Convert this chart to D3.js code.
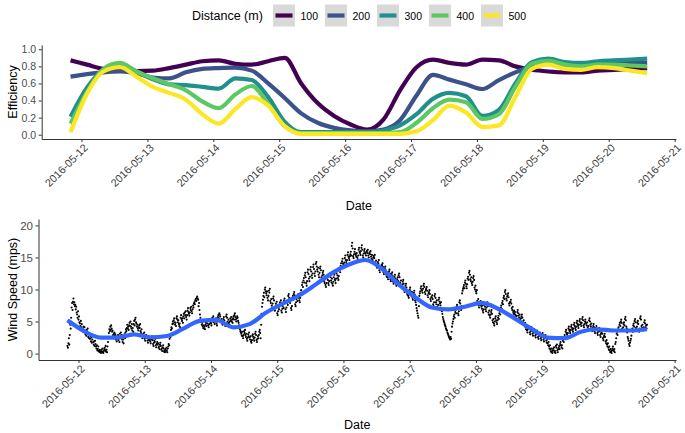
<!DOCTYPE html>
<html><head><meta charset="utf-8">
<script src="https://cdn.jsdelivr.net/npm/d3@7"></script>
<style>
body{margin:0;background:#fff}
text{font-family:"Liberation Sans",Arial,Helvetica,sans-serif}
</style>
</head><body>
<svg id="chart" width="685" height="433"></svg>
<script>
// ---------------- DATA ----------------
const distances = ["100", "200", "300", "400", "500"];
const distanceColors = ["#440154", "#3B528B", "#21908C", "#5DC863", "#FDE725"];

// efficiency, sampled every 6 h starting 2016-05-11 20:00
const effStart = "2016-05-11T20:00";
const effStepHours = 6;
const eff100 = [0.87,0.82,0.77,0.75,0.745,0.75,0.78,0.82,0.86,0.87,0.83,0.82,0.86,0.90,0.60,0.37,0.22,0.12,0.06,0.18,0.52,0.79,0.88,0.84,0.82,0.88,0.87,0.80,0.76,0.74,0.73,0.73,0.75,0.76,0.77,0.78];
const eff200 = [0.68,0.71,0.73,0.74,0.72,0.67,0.66,0.73,0.77,0.78,0.785,0.75,0.60,0.43,0.25,0.14,0.08,0.05,0.04,0.06,0.17,0.46,0.70,0.645,0.59,0.535,0.64,0.73,0.80,0.84,0.82,0.83,0.84,0.84,0.84,0.84];
const eff300 = [0.21,0.55,0.76,0.82,0.74,0.65,0.59,0.58,0.56,0.54,0.66,0.64,0.44,0.15,0.03,0.03,0.03,0.03,0.03,0.05,0.11,0.24,0.42,0.49,0.45,0.22,0.29,0.60,0.85,0.89,0.85,0.84,0.86,0.87,0.88,0.89];
const eff400 = [0.13,0.50,0.77,0.84,0.74,0.66,0.59,0.52,0.39,0.31,0.47,0.57,0.36,0.10,0.02,0.02,0.02,0.02,0.02,0.02,0.03,0.14,0.31,0.41,0.38,0.185,0.24,0.56,0.83,0.865,0.82,0.80,0.82,0.82,0.81,0.80];
const eff500 = [0.03,0.48,0.74,0.79,0.68,0.56,0.49,0.41,0.24,0.13,0.30,0.44,0.34,0.10,0.01,0.01,0.01,0.01,0.01,0.01,0.01,0.04,0.17,0.34,0.26,0.09,0.11,0.44,0.77,0.82,0.77,0.76,0.79,0.78,0.75,0.72];

// wind speed observations, every 10 min starting 2016-05-11 20:00 (one row = 6 h)
const windStart = "2016-05-11T20:00";
const windStepMinutes = 10;
const windSpeed = [
1.2,0.9,1.6,2.4,1.4,2.9,4.5,3.9,5.6,7.2,7.9,6.8,8.1,8.6,7.7,8.0,7.4,7.6,6.9,7.3,6.4,6.1,5.6,6.6,5.3,5.8,4.9,4.7,4.3,5.1,4.1,4.6,3.7,3.9,3.4,4.2,
3.6,4.1,3.3,3.0,3.6,2.8,3.7,3.2,3.9,2.6,3.1,2.4,2.9,2.3,2.7,1.9,2.5,1.7,2.2,2.8,1.8,1.4,1.9,1.2,2.0,1.5,1.1,0.8,1.3,0.5,0.7,1.1,0.4,0.3,0.6,0.2,
0.4,0.1,0.6,0.3,0.8,0.2,0.1,0.4,0.7,0.9,0.5,1.2,0.3,0.6,0.2,1.1,1.8,2.6,3.2,3.8,3.5,4.2,3.7,4.4,3.9,3.4,3.6,2.9,2.5,3.1,3.3,2.8,3.0,2.2,2.6,1.9,
2.7,2.3,2.9,2.1,2.5,1.8,3.1,2.7,3.3,2.4,2.9,2.2,1.8,2.2,1.6,2.6,3.0,2.4,3.3,3.8,3.5,4.0,4.5,3.9,4.2,3.7,4.4,4.8,4.3,5.0,4.2,3.9,4.6,3.6,4.0,3.4,
4.6,5.1,4.4,5.3,5.6,4.9,4.7,4.2,4.5,3.9,3.6,4.1,4.4,4.0,4.6,3.5,3.2,3.8,2.8,2.4,2.9,3.1,2.7,3.3,2.3,2.0,2.6,2.9,2.5,2.7,2.0,1.7,2.2,2.5,2.1,2.3,
1.9,1.6,2.2,2.4,2.7,2.1,1.5,1.2,1.7,2.0,1.8,2.3,1.3,1.0,1.5,1.8,1.4,1.6,0.9,1.1,0.7,1.4,1.7,1.2,0.6,0.8,0.4,1.0,1.3,0.8,0.3,0.5,0.2,0.7,0.4,0.9,
0.5,0.2,0.8,1.1,1.5,1.3,2.3,2.8,2.6,3.7,4.1,3.9,4.6,5.0,4.7,5.2,5.5,4.9,4.5,4.8,4.3,5.5,5.8,5.3,4.9,5.2,4.6,4.3,4.7,4.1,5.6,6.0,5.4,5.1,5.5,4.8,
5.8,6.2,5.5,6.4,6.0,6.6,5.7,5.3,6.0,6.7,7.1,6.5,6.2,5.9,6.4,7.1,6.8,7.3,6.6,6.3,6.9,7.5,7.2,7.8,8.0,7.7,8.3,8.5,8.2,8.7,8.9,8.6,8.4,7.4,7.9,6.8,
6.1,5.6,5.2,4.9,4.5,4.8,4.3,4.0,4.4,3.9,4.2,3.8,4.5,4.8,4.3,5.0,4.7,5.2,4.4,4.1,4.6,5.1,5.4,4.9,4.7,4.4,5.0,5.6,5.3,5.8,4.9,5.2,4.6,5.3,5.0,5.5,
4.7,4.4,5.0,5.7,6.0,5.5,6.3,6.1,5.8,5.2,4.9,5.4,4.8,4.5,5.0,5.4,5.7,5.2,4.6,4.3,4.8,5.8,6.1,5.6,5.0,4.7,5.3,4.8,4.5,5.0,5.5,5.2,5.7,5.0,5.3,4.8,
5.5,5.8,5.3,6.0,6.3,5.7,5.3,5.0,5.5,5.8,5.6,5.1,4.8,4.4,4.1,3.8,3.5,3.3,3.1,2.8,3.4,2.7,2.4,2.9,3.5,3.2,3.7,2.9,2.6,3.1,2.3,2.0,2.5,3.0,2.7,3.3,
2.5,2.2,2.7,1.9,1.7,2.1,2.8,3.0,2.6,2.3,2.0,2.5,3.1,3.4,2.9,2.1,1.8,2.3,2.7,2.4,2.9,3.4,3.7,3.2,2.4,4.5,6.2,7.3,7.9,8.4,9.0,9.5,8.8,10.0,10.3,9.7,
9.4,9.1,9.7,8.7,8.3,9.0,9.8,9.5,10.1,8.2,7.9,8.5,7.5,7.2,7.8,8.6,8.9,8.3,7.0,6.7,7.3,7.8,7.5,8.1,6.3,6.0,6.6,7.2,6.9,7.5,8.0,7.7,8.3,6.7,6.4,7.0,
7.4,7.8,7.1,8.3,8.6,8.0,6.9,6.5,7.2,7.9,8.2,7.6,9.0,9.3,8.7,8.2,7.9,8.5,7.1,6.8,7.4,8.7,9.0,8.4,9.3,9.6,9.1,7.7,7.4,8.0,8.5,8.8,8.2,9.0,9.3,8.7,
8.3,8.0,8.7,9.5,9.9,9.2,10.7,11.1,10.4,11.4,11.8,11.1,12.2,12.6,11.9,11.0,10.6,11.3,12.7,13.1,12.4,11.7,11.3,12.0,13.1,13.5,12.8,12.2,11.8,12.5,13.5,13.9,13.2,12.5,12.1,12.8,
14.0,14.3,13.6,13.1,12.8,13.4,12.3,11.9,12.6,13.3,13.6,13.0,11.9,11.5,12.2,12.6,12.9,12.3,11.3,11.0,11.6,10.7,10.4,11.0,11.8,12.1,11.5,11.0,10.7,11.3,12.2,12.5,11.9,11.4,11.1,11.7,
10.9,10.6,11.2,11.9,12.3,11.6,11.4,11.0,11.7,12.5,12.9,12.2,11.8,11.5,12.1,13.0,13.4,12.7,13.7,14.1,13.4,14.4,14.8,14.1,13.9,13.6,14.2,14.9,15.3,14.6,14.3,14.0,14.6,15.4,15.8,15.1,
14.9,14.6,15.2,15.5,15.9,15.3,16.8,17.3,16.4,15.2,14.9,15.5,15.9,16.3,15.6,15.4,15.1,15.7,15.0,14.7,15.3,16.2,16.5,15.9,15.7,15.4,16.0,16.5,16.9,16.2,15.3,15.0,15.6,16.0,16.3,15.7,
15.6,15.3,15.9,16.0,15.7,16.2,15.3,15.0,15.6,15.8,15.5,16.0,15.1,14.8,15.4,14.7,14.4,15.0,15.2,14.9,15.4,14.2,13.9,14.5,13.7,13.4,14.0,14.3,14.0,14.6,13.0,12.7,13.3,13.5,13.2,13.8,
13.8,14.1,13.5,12.7,12.4,13.0,13.3,13.6,13.0,12.3,12.0,12.6,11.9,11.6,12.2,12.8,13.1,12.5,11.6,11.3,11.9,12.4,12.7,12.1,11.2,10.9,11.5,12.0,12.3,11.7,10.9,10.6,11.2,11.6,11.9,11.3,
12.2,12.5,11.9,11.1,10.8,11.4,10.5,10.2,10.8,11.2,11.5,10.9,9.9,9.6,10.2,10.6,10.9,10.3,9.5,9.2,9.8,9.0,8.7,9.3,10.0,10.3,9.7,9.3,9.0,9.6,8.7,8.4,9.0,9.5,9.8,9.2,
8.3,8.0,7.6,7.1,6.7,6.3,5.9,5.6,7.4,9.0,9.4,9.7,10.2,10.5,10.0,9.8,9.5,10.1,10.6,10.9,10.4,9.6,9.3,9.9,10.1,10.4,9.8,9.1,8.8,9.4,9.6,9.9,9.3,8.5,8.2,8.8,
8.8,9.1,8.5,7.7,7.4,8.0,9.0,9.3,8.7,8.0,7.7,8.3,7.3,7.0,7.6,8.4,8.7,8.1,7.8,7.5,8.0,7.0,6.6,6.2,5.7,5.4,5.1,4.9,4.6,4.4,4.2,3.9,3.7,3.6,3.3,3.1,
2.9,2.7,2.5,2.4,2.2,2.6,2.3,3.4,4.2,4.7,5.0,5.4,5.8,6.1,5.6,6.5,6.8,6.3,7.3,7.6,7.1,6.3,6.0,6.6,8.0,8.3,7.8,7.1,6.8,7.4,9.4,9.8,10.1,10.4,10.7,10.2,
11.1,11.4,10.9,10.5,10.2,10.8,11.7,12.0,11.5,12.6,12.9,12.3,11.6,11.3,11.9,11.0,10.7,11.2,11.8,12.1,11.5,10.3,10.0,10.6,9.7,9.4,9.9,8.2,7.9,8.5,7.5,7.2,7.8,7.9,8.2,7.6,
7.3,7.0,7.5,6.7,6.4,6.9,7.6,7.9,7.3,6.9,6.6,7.2,7.7,8.0,7.4,6.4,6.1,6.7,5.9,5.6,6.1,6.5,6.8,6.2,5.2,4.9,5.4,4.7,4.4,5.0,5.5,5.8,5.2,4.9,4.6,5.2,
5.6,5.9,5.4,6.3,6.6,6.1,7.2,7.5,7.0,7.9,8.2,7.7,8.7,9.0,8.5,9.6,9.9,9.3,8.6,8.3,8.9,9.1,9.4,8.8,7.8,7.5,8.0,8.1,8.4,7.8,7.1,6.8,7.3,6.5,6.2,6.7,
6.2,6.5,6.0,5.7,5.4,5.9,6.5,6.8,6.3,5.9,5.6,6.1,5.3,5.0,5.5,5.8,6.1,5.6,5.0,4.7,5.2,4.6,4.3,4.8,4.1,3.8,4.3,3.6,3.3,3.8,4.0,4.3,3.8,3.3,3.0,3.5,
3.8,4.1,3.6,3.1,2.8,3.3,3.5,3.8,3.3,2.8,2.5,3.0,3.3,3.6,3.1,2.6,2.3,2.8,3.0,3.3,2.8,2.4,2.1,2.6,2.9,3.2,2.7,2.2,1.9,2.4,2.6,2.9,2.4,2.0,1.7,2.2,
1.6,1.3,1.8,1.1,0.8,1.3,0.6,0.3,0.8,0.3,0.1,0.5,0.8,0.5,1.0,0.2,0.4,0.1,1.2,0.9,1.4,0.5,0.2,0.7,0.9,1.2,0.7,1.5,1.8,1.3,1.0,1.3,0.8,2.0,2.3,1.8,
2.6,2.9,2.4,3.4,3.7,3.2,3.0,2.7,3.2,3.9,4.2,3.7,3.5,3.2,3.7,4.2,4.5,4.0,3.7,3.4,3.9,4.5,4.8,4.3,4.0,3.7,4.2,4.8,5.1,4.6,4.3,4.0,4.5,5.1,5.4,4.9,
4.6,4.3,4.8,5.4,5.7,5.2,4.4,4.1,4.6,5.0,5.3,4.8,4.7,4.4,4.9,4.1,3.8,4.3,5.2,5.5,5.0,4.5,4.2,4.7,3.8,3.5,4.0,4.3,4.6,4.1,3.5,3.2,3.7,4.0,4.3,3.8,
3.2,2.9,3.4,3.7,4.0,3.5,2.9,2.6,3.1,3.3,3.6,3.1,2.4,2.1,2.6,2.8,3.1,2.6,1.9,1.6,2.1,1.4,1.1,1.6,0.9,0.6,1.1,0.5,0.2,0.7,0.3,0.1,0.5,0.8,1.1,0.6,
0.4,0.7,0.2,1.5,1.8,2.4,3.1,3.4,2.9,3.8,4.1,3.6,4.5,4.8,4.3,5.0,5.3,4.8,3.9,3.6,4.1,4.6,4.9,4.4,5.4,5.7,5.2,4.2,3.9,3.3,2.6,2.3,2.0,1.5,1.2,1.7,
2.0,2.3,2.8,3.6,3.9,3.4,4.4,4.7,4.2,5.1,5.4,4.9,4.0,3.7,4.2,4.8,5.1,4.6,3.7,3.4,3.9,5.5,5.8,5.3,4.3,4.0,4.5,3.9,3.6,4.1,4.9,5.2,4.7,4.1,4.4,3.9,
4.5];

// smoothed wind speed, every 6 h starting 2016-05-11 20:00
const smoothStepHours = 6;
const smoothSpeed = [5.2,3.5,2.5,2.5,3.0,2.55,2.75,3.9,5.1,5.25,4.1,4.6,6.4,7.8,9.1,10.8,12.6,13.9,14.6,13.2,10.8,8.8,7.2,6.9,7.3,7.9,7.0,5.5,3.9,2.5,2.4,3.4,3.8,3.6,3.6,3.8];

const dateTicks = ["2016-05-12","2016-05-13","2016-05-14","2016-05-15","2016-05-16","2016-05-17","2016-05-18","2016-05-19","2016-05-20","2016-05-21"];
const effTicks = [0, 0.2, 0.4, 0.6, 0.8, 1.0];
const windTicks = [0, 5, 10, 15, 20];

// ---------------- BUILD ----------------
const parseT = d3.utcParse("%Y-%m-%dT%H:%M");
const parseD = d3.utcParse("%Y-%m-%d");
const eStart = parseT(effStart), wStart = parseT(windStart);
const effTimes = eff100.map((_, i) => d3.utcHour.offset(eStart, i * effStepHours));
const windTimes = windSpeed.map((_, i) => d3.utcMinute.offset(wStart, i * windStepMinutes));
const smoothTimes = smoothSpeed.map((_, i) => d3.utcHour.offset(wStart, i * smoothStepHours));
const effSeries = [eff100, eff200, eff300, eff400, eff500];

const ext = d3.extent(effTimes.concat(windTimes));
const pad = (ext[1] - ext[0]) * 0.05;
const xDomain = [new Date(+ext[0] - pad), new Date(+ext[1] + pad)];

const svg = d3.select("#chart");
const P1 = {l: 41.7, r: 676, t: 45, b: 139};
const P2 = {l: 38.5, r: 676, t: 219, b: 360};

const x1 = d3.scaleUtc().domain(xDomain).range([P1.l, P1.r]);
const y1 = d3.scaleLinear().domain([-0.05, 1.05]).range([P1.b, P1.t]);
const x2 = d3.scaleUtc().domain(xDomain).range([P2.l, P2.r]);
const y2 = d3.scaleLinear().domain([-1, 21]).range([P2.b, P2.t]);

const axisColor = "#333333", tickText = "#4D4D4D";

function drawAxes(P, xs, ys, yt, yfmt, yFont, yTitle, titleOffset) {
  const gx = svg.append("g").attr("transform", `translate(0,${P.b})`)
    .call(d3.axisBottom(xs).tickValues(dateTicks.map(parseD)).tickSize(3).tickSizeOuter(0).tickFormat(d3.utcFormat("%Y-%m-%d")));
  gx.select(".domain").attr("stroke", axisColor).attr("stroke-width", 1);
  gx.selectAll(".tick line").attr("stroke", axisColor);
  gx.selectAll(".tick text")
    .attr("fill", "#3a3a3a").attr("font-size", "10.8px")
    .attr("text-anchor", "end")
    .attr("x", 0).attr("y", 0).attr("dy", "0.72em")
    .attr("transform", "translate(1,4) rotate(-45)");
  const gy = svg.append("g").attr("transform", `translate(${P.l},0)`)
    .call(d3.axisLeft(ys).tickValues(yt).tickSize(3).tickSizeOuter(0).tickFormat(yfmt));
  gy.select(".domain").attr("stroke", axisColor).attr("stroke-width", 1);
  gy.selectAll(".tick line").attr("stroke", axisColor);
  gy.selectAll(".tick text").attr("fill", tickText).attr("font-size", yFont).attr("x", -5.5);
  svg.append("text").attr("x", (P.l + P.r) / 2).attr("y", P.b + titleOffset)
    .attr("text-anchor", "middle").attr("font-size", "12.5px").attr("fill", "#000").text("Date");
  svg.append("text").attr("transform", `translate(16.5,${(P.t + P.b) / 2}) rotate(-90)`)
    .attr("text-anchor", "middle").attr("font-size", "12.5px").attr("fill", "#000").text(yTitle);
}

// ----- top panel: efficiency lines
const lineEff = d3.line().x((d, i) => x1(effTimes[i])).y(d => y1(d)).curve(d3.curveMonotoneX);
svg.append("g").selectAll("path").data(effSeries).join("path")
  .attr("d", d => lineEff(d)).attr("fill", "none")
  .attr("stroke", (d, i) => distanceColors[i]).attr("stroke-width", 4.2)
  .attr("stroke-linejoin", "round");
drawAxes(P1, x1, y1, effTicks, d3.format(".1f"), "10.5px", "Efficiency", 71);

// ----- bottom panel: wind speed points + smooth
svg.append("g").selectAll("circle").data(windSpeed).join("circle")
  .attr("cx", (d, i) => x2(windTimes[i])).attr("cy", d => y2(d))
  .attr("r", 1.05).attr("fill", "#000");
const lineS = d3.line().x((d, i) => x2(smoothTimes[i])).y(d => y2(d)).curve(d3.curveMonotoneX);
svg.append("path").attr("d", lineS(smoothSpeed)).attr("fill", "none")
  .attr("stroke", "#3366FF").attr("stroke-width", 4.2);
drawAxes(P2, x2, y2, windTicks, d3.format("d"), "11.5px", "Wind Speed (mps)", 68.5);

// ----- legend
const leg = svg.append("g");
leg.append("text").attr("x", 192).attr("y", 20).attr("font-size", "12.5px").attr("fill", "#000").text("Distance (m)");
const items = leg.selectAll("g.item").data(distances).join("g")
  .attr("class", "item").attr("transform", (d, i) => `translate(${273 + i * 52},4.5)`);
items.append("rect").attr("width", 22).attr("height", 22).attr("fill", "#D9D9D9");
items.append("line").attr("x1", 2.5).attr("x2", 19.5).attr("y1", 11).attr("y2", 11)
  .attr("stroke", (d, i) => distanceColors[i]).attr("stroke-width", 4.2);
items.append("text").attr("x", 27.5).attr("y", 15).attr("font-size", "10.5px").attr("fill", "#000").text(d => d);
</script>
</body></html>
